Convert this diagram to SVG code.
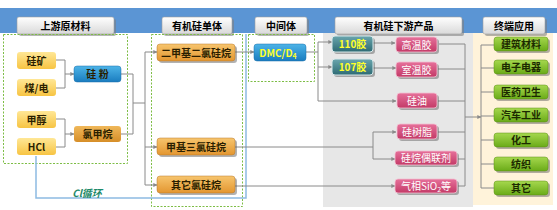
<svg xmlns="http://www.w3.org/2000/svg" width="557" height="210" viewBox="0 0 557 210">
<defs>
<linearGradient id="gTab" x1="0" y1="0" x2="0" y2="1"><stop offset="0" stop-color="#ffffff"/><stop offset="1" stop-color="#d9d9d9"/></linearGradient>
<linearGradient id="gYel" x1="0" y1="0" x2="0" y2="1"><stop offset="0" stop-color="#ffe796"/><stop offset="1" stop-color="#f7c443"/></linearGradient>
<linearGradient id="gBlue" x1="0" y1="0" x2="0" y2="1"><stop offset="0" stop-color="#4db4e8"/><stop offset="1" stop-color="#1a7cbf"/></linearGradient>
<linearGradient id="gOrgD" x1="0" y1="0" x2="0" y2="1"><stop offset="0" stop-color="#f0b85a"/><stop offset="1" stop-color="#d68e28"/></linearGradient>
<linearGradient id="gOrg" x1="0" y1="0" x2="0" y2="1"><stop offset="0" stop-color="#f7c56e"/><stop offset="1" stop-color="#e39630"/></linearGradient>
<linearGradient id="gTeal" x1="0" y1="0" x2="0" y2="1"><stop offset="0" stop-color="#6aa6ae"/><stop offset="1" stop-color="#2d6a73"/></linearGradient>
<linearGradient id="gPink" x1="0" y1="0" x2="0" y2="1"><stop offset="0" stop-color="#e6709a"/><stop offset="1" stop-color="#c33a67"/></linearGradient>
<linearGradient id="gGreen" x1="0" y1="0" x2="0" y2="1"><stop offset="0" stop-color="#a6d84e"/><stop offset="1" stop-color="#6aab18"/></linearGradient>
<marker id="arr" viewBox="0 0 6 6" refX="5.5" refY="3" markerWidth="4" markerHeight="4" orient="auto"><path d="M0,0 L6,3 L0,6 z" fill="#8a8a8a"/></marker>
<style>
text{font-family:"Noto Sans CJK SC","Noto Sans",sans-serif;font-weight:bold;font-size:10px;text-anchor:middle}
.tab{fill:url(#gTab);stroke:#a0a0a0;stroke-width:0.6}
.tsh{fill:#7a7a7a;opacity:0.55}
.sh{fill:#555;opacity:0.45}
.dash{fill:none;stroke:#7dbd45;stroke-width:1;stroke-dasharray:2 1.5}
.ln{fill:none;stroke:#8a8a8a;stroke-width:1}
.yel{fill:url(#gYel)}
.blue{fill:url(#gBlue);stroke:#1b6fa8;stroke-width:0.5}
.orgd{fill:url(#gOrgD)}
.org{fill:url(#gOrg);stroke:#b8782a;stroke-width:0.5}
.teal{fill:url(#gTeal);stroke:#d8e8ea;stroke-width:1}
.pink{fill:url(#gPink);stroke:#f3c0d2;stroke-width:0.8}
.green{fill:url(#gGreen);stroke:#5b8f14;stroke-width:0.5}
.dk{fill:#2a1e00}
.wt{fill:#ffffff;font-weight:normal}
.yt{fill:#ffff2a}
.gt{fill:#1c2a00}
</style>
</defs>

<rect x="0" y="8" width="557" height="25" fill="#5b95d4"/>
<rect x="323" y="33" width="150" height="174" fill="#e7e7e7"/>
<rect x="473" y="33" width="80" height="172" fill="#fff3da"/>

<g id="headers">
<rect class="tsh" x="19" y="19" width="97" height="17" rx="2"/>
<rect class="tab" x="17" y="17" width="97" height="17" rx="2"/>
<text x="65.5" y="29.5">上游原材料</text>
<rect class="tsh" x="164" y="19" width="70" height="17" rx="2"/>
<rect class="tab" x="162" y="17" width="70" height="17" rx="2"/>
<text x="197" y="29.5">有机硅单体</text>
<rect class="tsh" x="257" y="19" width="52" height="17" rx="2"/>
<rect class="tab" x="255" y="17" width="52" height="17" rx="2"/>
<text x="281" y="29.5">中间体</text>
<rect class="tsh" x="337" y="19" width="127" height="17" rx="2"/>
<rect class="tab" x="335" y="17" width="127" height="17" rx="2"/>
<text x="398.5" y="29.5">有机硅下游产品</text>
<rect class="tsh" x="485" y="19" width="62" height="17" rx="2"/>
<rect class="tab" x="483" y="17" width="62" height="17" rx="2"/>
<text x="514" y="29.5">终端应用</text>
</g>

<g id="frames">
<rect class="dash" x="3.5" y="34.5" width="124" height="129"/>
<rect class="dash" x="151.5" y="34.5" width="91" height="172"/>
<rect class="dash" x="248.5" y="34.5" width="66" height="47"/>
</g>

<g id="connectors">
<polyline points="36,156 36,198 246,198 246,34" fill="none" stroke="#8dbbe2" stroke-width="1.5"/>
<polyline class="ln" points="56,60 65,60 65,88 56,88"/>
<line class="ln" x1="65" y1="74" x2="74" y2="74" marker-end="url(#arr)"/>
<polyline class="ln" points="56,119 65,119 65,147 56,147"/>
<line class="ln" x1="65" y1="134" x2="74" y2="134" marker-end="url(#arr)"/>
<polyline class="ln" points="121,74 133,74 133,134 121,134"/>
<line class="ln" x1="133" y1="103" x2="145" y2="103"/>
<polyline class="ln" points="145,52 145,185"/>
<line class="ln" x1="145" y1="52" x2="157" y2="52" marker-end="url(#arr)"/>
<line class="ln" x1="145" y1="147" x2="157" y2="147" marker-end="url(#arr)"/>
<line class="ln" x1="145" y1="185" x2="157" y2="185" marker-end="url(#arr)"/>
<line class="ln" x1="235" y1="52" x2="254" y2="52" marker-end="url(#arr)"/>
<polyline class="ln" points="306,52 318,52"/>
<polyline class="ln" points="318,42 318,101"/>
<line class="ln" x1="318" y1="42" x2="332" y2="42" marker-end="url(#arr)"/>
<line class="ln" x1="318" y1="67" x2="332" y2="67" marker-end="url(#arr)"/>
<line class="ln" x1="318" y1="101" x2="396" y2="101" marker-end="url(#arr)"/>
<line class="ln" x1="373" y1="43" x2="395" y2="43" marker-end="url(#arr)"/>
<line class="ln" x1="373" y1="68" x2="396" y2="68" marker-end="url(#arr)"/>
<line class="ln" x1="235" y1="147" x2="373" y2="147"/>
<polyline class="ln" points="373,132 373,159"/>
<line class="ln" x1="373" y1="132" x2="396" y2="132" marker-end="url(#arr)"/>
<line class="ln" x1="373" y1="159" x2="395" y2="159" marker-end="url(#arr)"/>
<line class="ln" x1="235" y1="186" x2="395" y2="186" marker-end="url(#arr)"/>
<polyline class="ln" points="439,44 465,44 465,186 458,186"/>
<line class="ln" x1="438" y1="69" x2="465" y2="69"/>
<line class="ln" x1="438" y1="101" x2="465" y2="101"/>
<line class="ln" x1="438" y1="132" x2="465" y2="132"/>
<line class="ln" x1="458" y1="159" x2="465" y2="159"/>
<line class="ln" x1="465" y1="117" x2="481" y2="117" marker-end="url(#arr)"/>
<polyline class="ln" points="481,45 481,188"/>
<line class="ln" x1="481" y1="45" x2="494" y2="45"/>
<line class="ln" x1="481" y1="68" x2="494" y2="68"/>
<line class="ln" x1="481" y1="92" x2="494" y2="92"/>
<line class="ln" x1="481" y1="116" x2="494" y2="116"/>
<line class="ln" x1="481" y1="140" x2="494" y2="140"/>
<line class="ln" x1="481" y1="164" x2="494" y2="164"/>
<line class="ln" x1="481" y1="188" x2="494" y2="188"/>
</g>
<text x="87" y="197" font-size="9" font-style="italic" fill="#1e8a6a">Cl循环</text>

<g id="n-guikuang"><rect class="yel" x="17" y="52" width="39" height="17" rx="3"/><text class="dk" x="36.5" y="64.5">硅矿</text></g>
<g id="n-meidian"><rect class="yel" x="17" y="79" width="39" height="17" rx="3"/><text class="dk" x="36.5" y="91.5">煤/电</text></g>
<g id="n-guifen"><rect class="blue" x="74" y="66" width="47" height="16" rx="3"/><text class="dk" x="97.5" y="78">硅  粉</text></g>
<g id="n-jiachun"><rect class="yel" x="17" y="111" width="39" height="17" rx="3"/><text class="dk" x="36.5" y="123.5">甲醇</text></g>
<g id="n-hcl"><rect class="yel" x="17" y="138" width="39" height="17" rx="3"/><text class="dk" x="36.5" y="150.5">HCl</text></g>
<g id="n-lvjiawan"><rect class="orgd" x="74" y="126" width="47" height="16" rx="3"/><text class="dk" x="97.5" y="138">氯甲烷</text></g>

<g id="n-erjia"><rect class="sh" x="159" y="46" width="78" height="17" rx="3"/><rect class="org" x="157" y="44" width="78" height="17" rx="3"/><text class="dk" x="196" y="56.5">二甲基二氯硅烷</text></g>
<g id="n-jiasan"><rect class="sh" x="159" y="140" width="78" height="17" rx="3"/><rect class="org" x="157" y="138" width="78" height="17" rx="3"/><text class="dk" x="196" y="150.5">甲基三氯硅烷</text></g>
<g id="n-qita"><rect class="sh" x="159" y="178" width="78" height="17" rx="3"/><rect class="org" x="157" y="176" width="78" height="17" rx="3"/><text class="dk" x="196" y="188.5">其它氯硅烷</text></g>

<g id="n-dmc"><rect class="blue" x="254" y="44" width="52" height="17" rx="3"/><text class="yt" x="278" y="56.5" font-weight="normal">DMC/D<tspan font-size="7" dy="2">4</tspan></text></g>

<g id="n-110"><rect class="sh" x="334" y="38" width="41" height="16" rx="3"/><rect class="teal" x="332" y="36" width="41" height="16" rx="3"/><text class="yt" x="352.5" y="48">110胶</text></g>
<g id="n-107"><rect class="sh" x="334" y="61" width="41" height="16" rx="3"/><rect class="teal" x="332" y="59" width="41" height="16" rx="3"/><text class="yt" x="352.5" y="71">107胶</text></g>

<g id="n-gaowen"><rect class="sh" x="398" y="39" width="41" height="15" rx="3"/><rect class="pink" x="396" y="37" width="41" height="15" rx="3"/><text class="wt" x="416.5" y="48.5">高温胶</text></g>
<g id="n-shiwen"><rect class="sh" x="398" y="64" width="41" height="15" rx="3"/><rect class="pink" x="396" y="62" width="41" height="15" rx="3"/><text class="wt" x="416.5" y="73.5">室温胶</text></g>
<g id="n-guiyou"><rect class="sh" x="399" y="95" width="40" height="15" rx="3"/><rect class="pink" x="397" y="93" width="40" height="15" rx="3"/><text class="wt" x="417" y="104.5">硅油</text></g>
<g id="n-shuzhi"><rect class="sh" x="399" y="126" width="40" height="15" rx="3"/><rect class="pink" x="397" y="124" width="40" height="15" rx="3"/><text class="wt" x="417" y="135.5">硅树脂</text></g>
<g id="n-ouliangji"><rect class="sh" x="397" y="153" width="62" height="14" rx="3"/><rect class="pink" x="395" y="151" width="62" height="14" rx="3"/><text class="wt" x="426" y="162">硅烷偶联剂</text></g>
<g id="n-qixiang"><rect class="sh" x="397" y="181" width="62" height="14" rx="3"/><rect class="pink" x="395" y="179" width="62" height="14" rx="3"/><text class="wt" x="426" y="190">气相SiO<tspan font-size="7" dy="2">2</tspan><tspan dy="-2">等</tspan></text></g>

<g id="n-jianzhu"><rect class="sh" x="496" y="39" width="54" height="14" rx="3"/><rect class="green" x="494" y="37" width="54" height="14" rx="3"/><text class="gt" x="521" y="48">建筑材料</text></g>
<g id="n-dianzi"><rect class="sh" x="496" y="62" width="54" height="14" rx="3"/><rect class="green" x="494" y="60" width="54" height="14" rx="3"/><text class="gt" x="521" y="71">电子电器</text></g>
<g id="n-yiyao"><rect class="sh" x="496" y="87" width="54" height="14" rx="3"/><rect class="green" x="494" y="85" width="54" height="14" rx="3"/><text class="gt" x="521" y="96">医药卫生</text></g>
<g id="n-qiche"><rect class="sh" x="496" y="110" width="54" height="14" rx="3"/><rect class="green" x="494" y="108" width="54" height="14" rx="3"/><text class="gt" x="521" y="119">汽车工业</text></g>
<g id="n-huagong"><rect class="sh" x="496" y="135" width="54" height="14" rx="3"/><rect class="green" x="494" y="133" width="54" height="14" rx="3"/><text class="gt" x="521" y="144">化工</text></g>
<g id="n-fangzhi"><rect class="sh" x="496" y="159" width="54" height="14" rx="3"/><rect class="green" x="494" y="157" width="54" height="14" rx="3"/><text class="gt" x="521" y="168">纺织</text></g>
<g id="n-qita2"><rect class="sh" x="496" y="183" width="54" height="14" rx="3"/><rect class="green" x="494" y="181" width="54" height="14" rx="3"/><text class="gt" x="521" y="192">其它</text></g>
</svg>
